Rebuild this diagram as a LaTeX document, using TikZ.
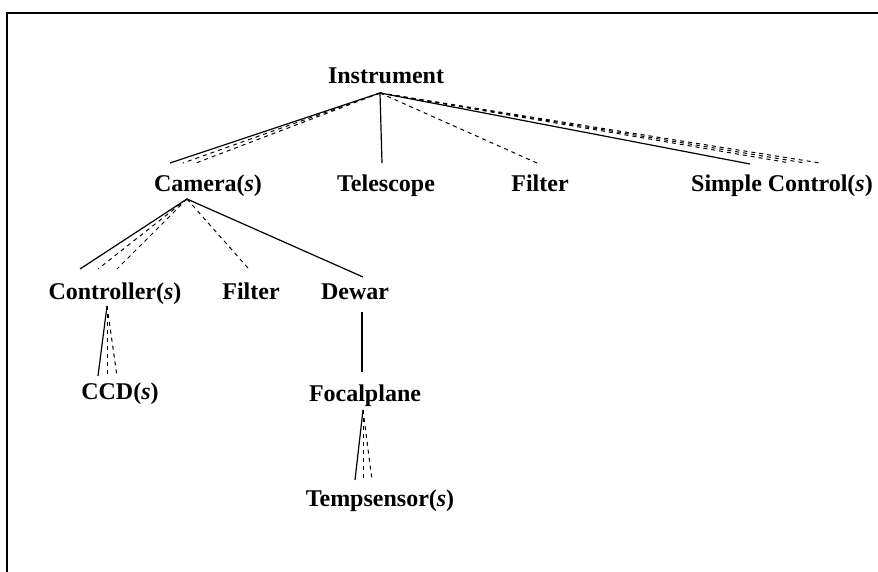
\documentclass[tikz,border=0pt]{standalone}
\usepackage{fontspec}
\setmainfont{Liberation Serif}
\begin{document}
\begin{tikzpicture}[x=1pt,y=-1pt,
  lbl/.style={font=\fontsize{24}{28}\selectfont\bfseries, anchor=base, inner sep=0pt},
  link/.style={line width=1.2pt},
  dlink/.style={line width=1pt, dash pattern=on 4pt off 4pt}]
\useasboundingbox (0,0) rectangle (878,572);
% frame edges
\draw[line width=2pt] (7,572) -- (7,13) -- (878,13);

% labels
\node[lbl] (instr) at (386,84) {Instrument};
\node[lbl] (cam)   at (208,192) {Camera(\textit{s})};
\node[lbl] (tel)   at (386,192) {Telescope};
\node[lbl] (filt1) at (540,192) {Filter};
\node[lbl] (simp)  at (782,192) {Simple Control(\textit{s})};
\node[lbl] (ctrl)  at (115,299) {Controller(\textit{s})};
\node[lbl] (filt2) at (251,299) {Filter};
\node[lbl] (dewar) at (355,299) {Dewar};
\node[lbl] (ccd)   at (120,399) {CCD(\textit{s})};
\node[lbl] (focal) at (365,401) {Focalplane};
\node[lbl] (temp)  at (380,506) {Tempsensor(\textit{s})};

% fork points below parents
\coordinate (instr-f) at (380,93);
\coordinate (cam-f)   at (187,199);
\coordinate (ctrl-f)  at (107,306);
\coordinate (focal-f) at (363,410);

% end points above children
\coordinate (cam-a)   at (170,163);
\coordinate (cam-b)   at (183,163);
\coordinate (cam-c)   at (196,163);
\coordinate (tel-a)   at (382,163);
\coordinate (filt1-a) at (537,163);
\coordinate (simp-a)  at (750,164);
\coordinate (simp-b)  at (790,163);
\coordinate (simp-c)  at (805,163);
\coordinate (simp-d)  at (820,163);
\coordinate (ctrl-a)  at (80,269);
\coordinate (ctrl-b)  at (98,269);
\coordinate (ctrl-c)  at (117,269);
\coordinate (filt2-a) at (248,268);
\coordinate (dewar-a) at (363,277);
\coordinate (dewar-b) at (362,312);
\coordinate (focal-a) at (362,372);
\coordinate (ccd-a)   at (98,376);
\coordinate (ccd-b)   at (107,376);
\coordinate (ccd-c)   at (117,376);
\coordinate (temp-a)  at (355,480);
\coordinate (temp-b)  at (363,480);
\coordinate (temp-c)  at (372,480);

% Instrument
\draw[link]  (instr-f) -- (cam-a);
\draw[dlink] (instr-f) -- (cam-b);
\draw[dlink] (instr-f) -- (cam-c);
\draw[link]  (instr-f) -- (tel-a);
\draw[dlink] (instr-f) -- (filt1-a);
\draw[link]  (instr-f) -- (simp-a);
\draw[dlink] (instr-f) -- (simp-b);
\draw[dlink] (instr-f) -- (simp-c);
\draw[dlink] (instr-f) -- (simp-d);

% Camera
\draw[link]  (cam-f) -- (ctrl-a);
\draw[dlink] (cam-f) -- (ctrl-b);
\draw[dlink] (cam-f) -- (ctrl-c);
\draw[dlink] (cam-f) -- (filt2-a);
\draw[link]  (cam-f) -- (dewar-a);

% Controller
\draw[link]  (ctrl-f) -- (ccd-a);
\draw[dlink] (ctrl-f) -- (ccd-b);
\draw[dlink] (ctrl-f) -- (ccd-c);

% Dewar
\draw[link]  (dewar-b) -- (focal-a);

% Focalplane
\draw[link]  (focal-f) -- (temp-a);
\draw[dlink] (focal-f) -- (temp-b);
\draw[dlink] (focal-f) -- (temp-c);
\end{tikzpicture}
\end{document}
